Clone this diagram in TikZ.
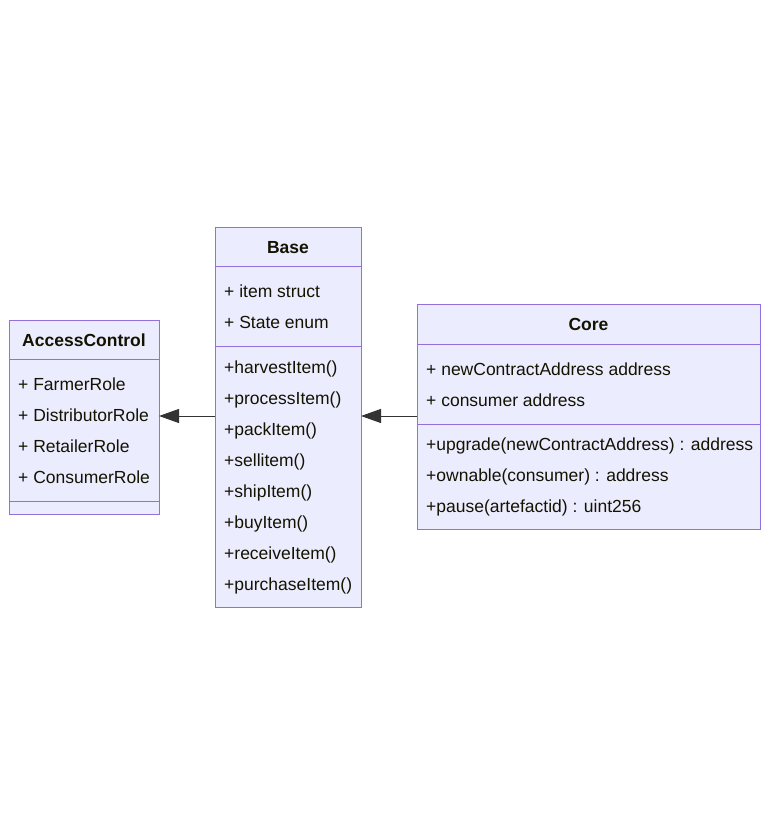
\documentclass[tikz,border=0pt]{standalone}
\usepackage{fontspec}
\setmainfont{Liberation Sans}
\usetikzlibrary{arrows.meta}
\definecolor{boxfill}{HTML}{ECECFF}
\definecolor{boxline}{HTML}{9370DB}
\definecolor{txt}{HTML}{131300}
\definecolor{rel}{HTML}{333333}
\begin{document}
\begin{tikzpicture}[x=1pt,y=-1pt,
  classbox/.style={draw=boxline,fill=boxfill,line width=1pt,inner sep=0pt,outer sep=0pt},
  member/.style={anchor=base west,inner sep=0pt,text=txt,font=\fontsize{17.5}{20}\selectfont},
  title/.style={anchor=base,inner sep=0pt,text=txt,font=\fontsize{17.5}{20}\selectfont\bfseries},
  divider/.style={draw=boxline,line width=1pt},
  inherit/.style={draw=rel,line width=1pt,-{Triangle[length=20pt,width=14pt,fill=rel]}}]
\useasboundingbox (0,0) rectangle (769,834);
% AccessControl
\node[classbox,minimum width=150pt,minimum height=194pt] (ac) at (84,417) {};
\draw[divider] (9,359) -- (159,359);
\draw[divider] (9,501) -- (159,501);
\node[title] (actitle) at (84,346) {AccessControl};
\node[member] (ac1) at (18,390) {+ FarmerRole};
\node[member] (ac2) at (18,421) {+ DistributorRole};
\node[member] (ac3) at (18,452) {+ RetailerRole};
\node[member] (ac4) at (18,483) {+ ConsumerRole};
% Base
\node[classbox,minimum width=146pt,minimum height=380pt] (base) at (288,417) {};
\draw[divider] (215,266) -- (361,266);
\draw[divider] (215,346) -- (361,346);
\node[title] (basetitle) at (288,253) {Base};
\node[member] (b1) at (224,297) {+ item struct};
\node[member] (b2) at (224,328) {+ State enum};
\node[member] (m1) at (224,373) {+harvestItem()};
\node[member] (m2) at (224,404) {+processItem()};
\node[member] (m3) at (224,435) {+packItem()};
\node[member] (m4) at (224,466) {+sellitem()};
\node[member] (m5) at (224,497) {+shipItem()};
\node[member] (m6) at (224,528) {+buyItem()};
\node[member] (m7) at (224,559) {+receiveItem()};
\node[member] (m8) at (224,590) {+purchaseItem()};
% Core
\node[classbox,minimum width=343pt,minimum height=225pt] (core) at (588.5,416.5) {};
\draw[divider] (417,344) -- (760,344);
\draw[divider] (417,424) -- (760,424);
\node[title] (coretitle) at (588.5,330) {Core};
\node[member] (c1) at (426,375) {+ newContractAddress address};
\node[member] (c2) at (426,406) {+ consumer address};
\node[member] (c3) at (426,450) {+upgrade(newContractAddress) : address};
\node[member] (c4) at (426,481) {+ownable(consumer) : address};
\node[member] (c5) at (426,512) {+pause(artefactid) : uint256};
% relations
\draw[inherit] (base.west |- 0,416) -- (ac.east |- 0,416);
\draw[inherit] (core.west |- 0,416) -- (base.east |- 0,416);
\end{tikzpicture}
\end{document}
